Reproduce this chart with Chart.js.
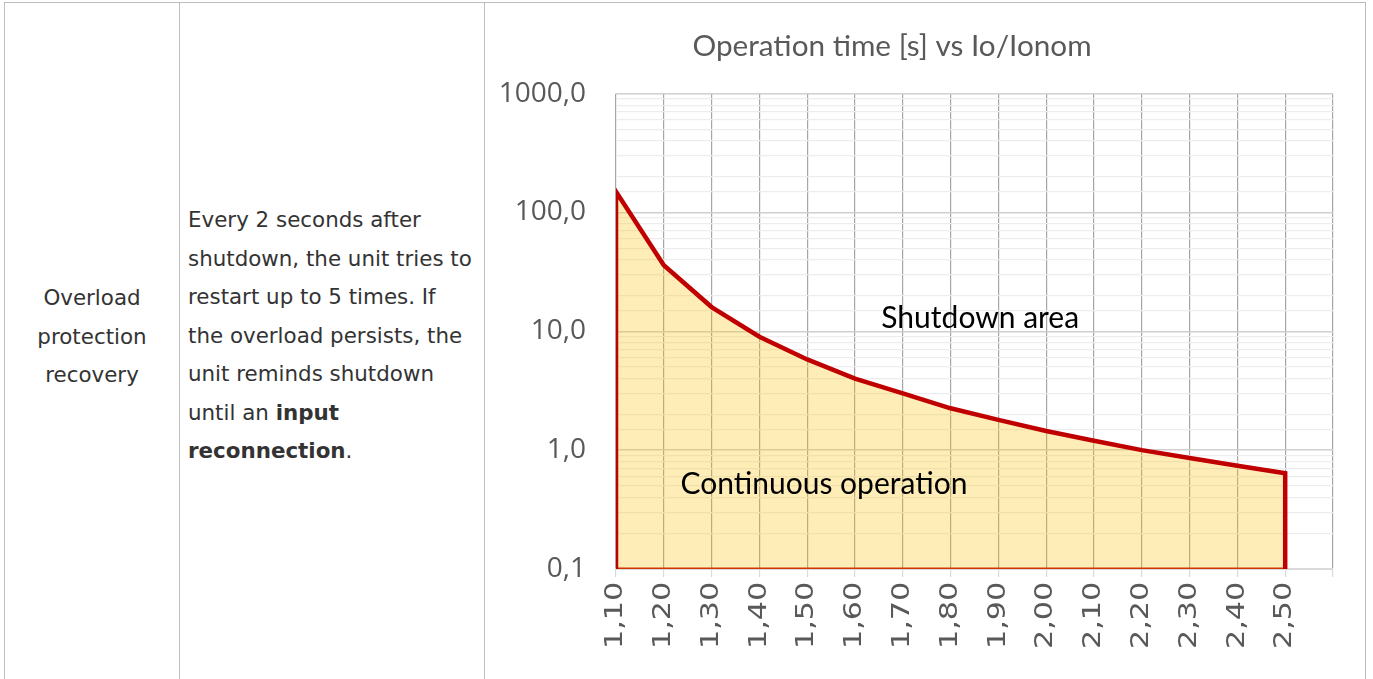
<!DOCTYPE html>
<html>
<head>
<meta charset="utf-8">
<script src="https://cdn.jsdelivr.net/npm/chart.js@4/dist/chart.umd.min.js"></script>
<style>
  html, body { margin: 0; padding: 0; background: #ffffff; }
  body { width: 1373px; height: 679px; position: relative; overflow: hidden; }
  .bl { position: absolute; background: #bdbdbd; }
  .txt { position: absolute; font-family: "DejaVu Sans", Verdana, sans-serif; font-size: 21.4px; line-height: 38.5px; color: #333333; }
  #chartWrap { position: absolute; left: 451px; top: 0px; width: 913px; height: 679px; }
</style>
</head>
<body>
<div class="bl" style="left:4px; top:2px; width:1362px; height:1px;"></div>
<div class="bl" style="left:4px; top:2px; width:1px; height:677px;"></div>
<div class="bl" style="left:179px; top:2px; width:1px; height:677px;"></div>
<div class="bl" style="left:484px; top:2px; width:1px; height:677px;"></div>
<div class="bl" style="left:1365px; top:2px; width:1px; height:677px;"></div>

<div class="txt" style="left:5px; top:279px; width:174px; text-align:center;">Overload<br>protection<br>recovery</div>
<div class="txt" style="left:188px; top:201px; width:296px; text-align:left;">Every 2 seconds after<br>shutdown, the unit tries to<br>restart up to 5 times. If<br>the overload persists, the<br>unit reminds shutdown<br>until an <b>input</b><br><b>reconnection</b>.</div>

<div id="chartWrap"><canvas id="c" width="913" height="679"></canvas></div>

<script>
// ---- data ----
const chartTitle = 'Operation time [s] vs Io/Ionom';
const currentRatio = [1.10, 1.20, 1.30, 1.40, 1.50, 1.60, 1.70, 1.80, 1.90, 2.00, 2.10, 2.20, 2.30, 2.40, 2.50];
const operationTime = [150, 36, 16, 9.0, 5.8, 4.0, 3.0, 2.25, 1.8, 1.45, 1.2, 1.0, 0.86, 0.74, 0.64];
const xTickLabels = ['1,10','1,20','1,30','1,40','1,50','1,60','1,70','1,80','1,90','2,00','2,10','2,20','2,30','2,40','2,50'];
const yTickValues = [0.1, 1, 10, 100, 1000];
const yTickLabels = ['0,1', '1,0', '10,0', '100,0', '1000,0'];
const regionLabels = ['Shutdown area', 'Continuous operation'];

// ---- axis ranges / label anchors (layout, not data) ----
const xMin = 1.1, xMax = 2.6, xStep = 0.1;
const yMin = 0.1, yMax = 1000;
const regionAnchors = [{x: 1.862, y: 12.9}, {x: 1.535, y: 0.52}];
const xLabelStretch = 1.26;

// area outline: baseline -> curve -> baseline
const firstX = currentRatio[0], lastX = currentRatio[currentRatio.length - 1];
const areaPoints = [{x: firstX, y: yMin}]
  .concat(currentRatio.map((x, i) => ({x: x, y: operationTime[i]})))
  .concat([{x: lastX, y: yMin}]);
const basePoints = [{x: firstX, y: yMin}, {x: lastX, y: yMin}];

function isDecade(v) {
  const l = Math.log10(v);
  return Math.abs(l - Math.round(l)) < 1e-9;
}

const regionTextPlugin = {
  id: 'regionText',
  afterDatasetsDraw(chart) {
    const ctx = chart.ctx;
    const xs = chart.scales.x, ys = chart.scales.y;
    ctx.save();
    ctx.fillStyle = '#000000';
    ctx.font = '30px Lato, "Open Sans", sans-serif';
    ctx.textAlign = 'center';
    ctx.textBaseline = 'middle';
    regionLabels.forEach((t, i) => {
      ctx.fillText(t, xs.getPixelForValue(regionAnchors[i].x), ys.getPixelForValue(regionAnchors[i].y));
    });
    ctx.restore();
  }
};

new Chart(document.getElementById('c'), {
  type: 'line',
  data: {
    datasets: [{
      data: areaPoints,
      borderColor: '#C00000',
      borderWidth: 4.5,
      borderJoinStyle: 'miter',
      backgroundColor: 'rgba(255, 192, 0, 0.28)',
      fill: 'start',
      tension: 0,
      pointRadius: 0,
      pointHoverRadius: 0
    }, {
      data: basePoints,
      borderColor: '#C00000',
      borderWidth: 3,
      fill: false,
      tension: 0,
      pointRadius: 0,
      pointHoverRadius: 0
    }]
  },
  options: {
    responsive: false,
    animation: false,
    events: [],
    layout: { padding: { left: 0, right: 31, top: 0, bottom: 0 } },
    plugins: {
      legend: { display: false },
      tooltip: { enabled: false },
      title: {
        display: true,
        text: chartTitle,
        color: '#595959',
        font: { family: 'Lato, "Open Sans", sans-serif', size: 29.7, weight: 'normal', lineHeight: 1.2 },
        padding: { top: 29, bottom: 29 }
      }
    },
    scales: {
      x: {
        type: 'linear',
        min: xMin,
        max: xMax,
        afterFit(scale) {
          scale.height = 110; scale.paddingLeft = 0; scale.paddingRight = 0;
          if (!scale._stretchPatched) {
            const orig = scale.drawLabels;
            scale.drawLabels = function (area) {
              const ctx = this.ctx;
              const y0 = this.top + 14;
              ctx.save();
              ctx.translate(0, y0);
              ctx.scale(1, xLabelStretch);
              ctx.translate(0, -y0);
              orig.call(this, area);
              ctx.restore();
            };
            scale._stretchPatched = true;
          }
        },
        ticks: {
          stepSize: xStep,
          autoSkip: false,
          minRotation: 90,
          maxRotation: 90,
          padding: 5,
          color: '#595959',
          font: { family: 'DejaVu Sans', size: 24 },
          callback: (v) => {
            const idx = Math.round((v - xMin) / xStep);
            return xTickLabels[idx] !== undefined ? xTickLabels[idx] : '';
          }
        },
        grid: { color: '#a6a6a6', lineWidth: 1.2, tickColor: '#d9d9d9', tickLength: 8, drawTicks: true },
        border: { display: true, color: '#d9d9d9', width: 2 }
      },
      y: {
        type: 'logarithmic',
        min: yMin,
        max: yMax,
        afterFit(scale) { scale.width = 165; },
        ticks: {
          autoSkip: false,
          padding: 30,
          color: '#595959',
          font: { family: '"Open Sans", sans-serif', size: 28 },
          callback: (v) => {
            const idx = yTickValues.findIndex(t => Math.abs(t - v) < 1e-9 * Math.max(1, t));
            return idx >= 0 ? yTickLabels[idx] : '';
          }
        },
        grid: {
          drawTicks: false,
          tickLength: 0,
          color: (c) => (c.tick && isDecade(c.tick.value)) ? '#d0d0d0' : '#ededed',
          lineWidth: (c) => (c.tick && isDecade(c.tick.value)) ? 1.5 : 1.2
        },
        border: { display: false }
      }
    }
  },
  plugins: [regionTextPlugin]
});
</script>
</body>
</html>
